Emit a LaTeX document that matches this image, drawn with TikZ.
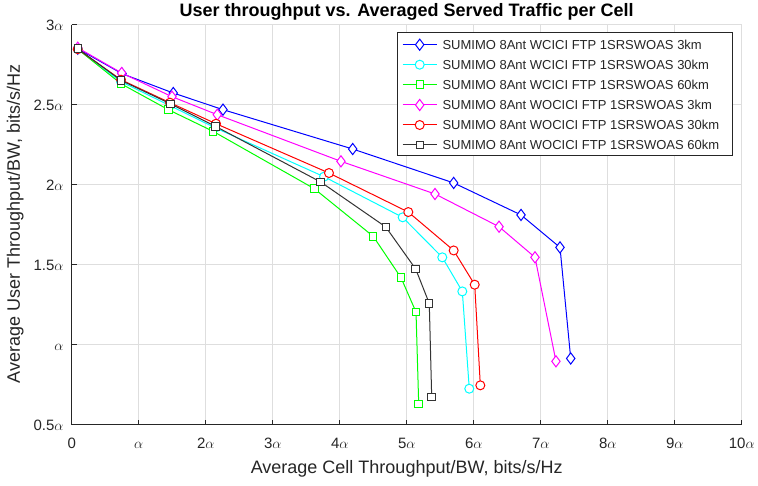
\documentclass[tikz,border=0pt]{standalone}
\usepackage{fontspec}
\setmainfont{Liberation Sans}
\usetikzlibrary{plotmarks}
\definecolor{axgray}{RGB}{38,38,38}
\definecolor{gridgray}{RGB}{222,222,222}
\definecolor{mblue}{RGB}{0,0,255}
\definecolor{mcyan}{RGB}{0,255,255}
\definecolor{mgreen}{RGB}{0,255,0}
\definecolor{mmag}{RGB}{255,0,255}
\definecolor{mred}{RGB}{255,0,0}
\definecolor{mblack}{RGB}{51,51,51}
\tikzset{
  gridline/.style={draw=gridgray, line width=0.8pt},
  axisline/.style={draw=axgray, line width=1pt},
  ticklbl/.style={text=axgray, font=\fontsize{15}{15}\selectfont, inner sep=0pt},
  axlbl/.style={text=axgray, font=\fontsize{18}{18}\selectfont, inner sep=0pt},
  titlelbl/.style={text=black, font=\fontsize{18}{18}\selectfont\bfseries, inner sep=0pt},
  leglbl/.style={text=axgray, font=\fontsize{13}{13}\selectfont, inner sep=0pt, anchor=base west},
  series/.style={line width=1pt, mark options={solid, fill=white}},
  dia/.style={series, mark=diamond*, mark size=5.6pt},
  circ/.style={series, mark=*, mark size=4.5pt},
  sq/.style={series, mark=square*, mark size=3.7pt},
}
\begin{document}
\begin{tikzpicture}[x=1pt, y=1pt]
\useasboundingbox[fill=white] (0,0) rectangle (758,486);
% title and axis labels
\node[titlelbl, anchor=base] (title) at (406.7,469) {User throughput vs. Averaged Served Traffic per Cell};
\node[axlbl, anchor=base] (xlabel) at (406.7,12) {Average Cell Throughput/BW, bits/s/Hz};
\node[axlbl, anchor=base, rotate=90] (ylabel) at (20,261.8) {Average User Throughput/BW, bits/s/Hz};
\begin{scope}[shift={(71.7pt,-18.7pt)}, x=67pt, y=160pt]
  % grid
  \foreach \gx in {1,...,10} \draw[gridline] (\gx,0.5) -- (\gx,3);
  \foreach \gy in {1,1.5,2,2.5,3} \draw[gridline] (0,\gy) -- (10,\gy);
  % axes
  \draw[axisline] (0,3) -- (0,0.5) -- (10,0.5);
  \foreach \gx in {1,...,10} \draw[axisline] (\gx,0.5) -- ++(0,5pt);
  \foreach \gy in {1,1.5,2,2.5,3} \draw[axisline] (0,\gy) -- ++(5pt,0);
  % x tick labels
  \node[ticklbl, anchor=base] (xt0) at ([yshift=-23.6pt]0,0.5) {0};
  \node[ticklbl, anchor=base] (xt1) at ([yshift=-23.6pt]1,0.5) {$\alpha$};
  \foreach \gx in {2,...,10}
    \node[ticklbl, anchor=base] (xt\gx) at ([yshift=-23.6pt]\gx,0.5) {\gx$\alpha$};
  % y tick labels
  \node[ticklbl, anchor=base east] (yt05) at ([xshift=-8pt,yshift=-5.5pt]0,0.5) {0.5$\alpha$};
  \node[ticklbl, anchor=base east] (yt10) at ([xshift=-8pt,yshift=-5.5pt]0,1) {$\alpha$};
  \node[ticklbl, anchor=base east] (yt15) at ([xshift=-8pt,yshift=-5.5pt]0,1.5) {1.5$\alpha$};
  \node[ticklbl, anchor=base east] (yt20) at ([xshift=-8pt,yshift=-5.5pt]0,2) {2$\alpha$};
  \node[ticklbl, anchor=base east] (yt25) at ([xshift=-8pt,yshift=-5.5pt]0,2.5) {2.5$\alpha$};
  \node[ticklbl, anchor=base east] (yt30) at ([xshift=-8pt,yshift=-5.5pt]0,3) {3$\alpha$};
  % data
  \draw[dia, mblue] plot coordinates {(0.090,2.850) (0.751,2.694) (1.516,2.573) (2.258,2.469) (4.194,2.223) (5.701,2.011) (6.706,1.811) (7.288,1.608) (7.448,0.914)};
  \draw[circ, mcyan] plot coordinates {(0.090,2.847) (0.736,2.644) (1.467,2.494) (2.139,2.356) (3.766,2.050) (4.940,1.796) (5.531,1.546) (5.830,1.333) (5.934,0.725)};
  \draw[sq, mgreen] plot coordinates {(0.090,2.847) (0.736,2.631) (1.442,2.469) (2.113,2.333) (3.621,1.975) (4.501,1.677) (4.915,1.419) (5.139,1.204) (5.179,0.631)};
  \draw[dia, mmag] plot coordinates {(0.090,2.856) (0.746,2.698) (1.497,2.550) (2.173,2.4375) (4.019,2.146) (5.422,1.942) (6.378,1.7375) (6.915,1.546) (7.228,0.896)};
  \draw[circ, mred] plot coordinates {(0.090,2.847) (0.736,2.656) (1.467,2.5125) (2.154,2.381) (3.840,2.073) (5.024,1.829) (5.701,1.589) (6.015,1.375) (6.099,0.746)};
  \draw[sq, mblack] plot coordinates {(0.090,2.850) (0.736,2.652) (1.472,2.506) (2.149,2.364) (3.716,2.017) (4.687,1.736) (5.134,1.473) (5.337,1.258) (5.373,0.673)};
\end{scope}
% legend
\draw[axisline, fill=white, line width=0.8pt] (397.3,453.7) rectangle (732.7,331);
\foreach \row/\sty/\col/\txt [count=\i] in {
  441.3/dia/mblue/{SUMIMO 8Ant WCICI FTP 1SRSWOAS 3km},
  421.3/circ/mcyan/{SUMIMO 8Ant WCICI FTP 1SRSWOAS 30km},
  401.3/sq/mgreen/{SUMIMO 8Ant WCICI FTP 1SRSWOAS 60km},
  381/dia/mmag/{SUMIMO 8Ant WOCICI FTP 1SRSWOAS 3km},
  361/circ/mred/{SUMIMO 8Ant WOCICI FTP 1SRSWOAS 30km},
  341/sq/mblack/{SUMIMO 8Ant WOCICI FTP 1SRSWOAS 60km}} {
  \draw[\col, line width=1pt] (402.7,\row) -- (436.7,\row);
  \draw[\sty, \col] plot coordinates {(419.7,\row)};
  \node[leglbl] (leg\i) at (442.3,\row-4.6) {\txt};
}
\end{tikzpicture}
\end{document}
